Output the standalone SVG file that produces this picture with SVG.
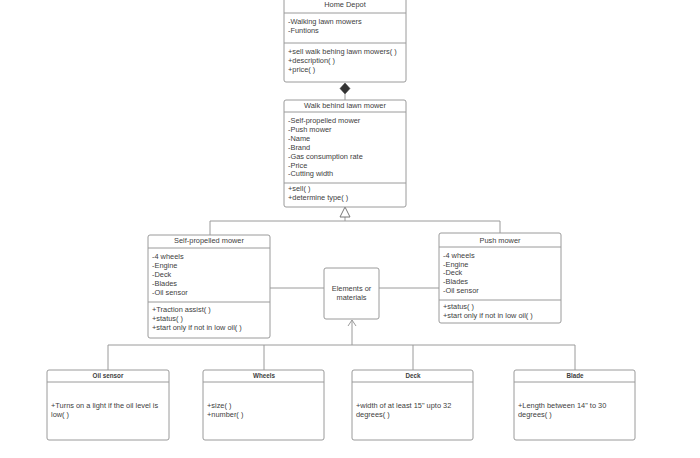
<svg xmlns="http://www.w3.org/2000/svg" width="700" height="458" viewBox="0 0 700 458">
<style>
.box{fill:#fff;stroke:#9a9a9a;stroke-width:1}
.div{stroke:#9a9a9a;stroke-width:1}
.t{font-family:"Liberation Sans",Arial,sans-serif;font-size:7.4px;fill:#404040}
.c{text-anchor:middle}
.b{font-weight:bold;font-size:6.3px}
.ln{fill:none;stroke:#9a9a9a;stroke-width:1}
</style>
<rect width="700" height="458" fill="#fff"/>
<g id="connectors">
<path class="ln" d="M345,94 V100"/>
<path d="M345,83 L350,88.5 L345,94 L340,88.5 Z" fill="#333" stroke="#333" stroke-width="0.5"/>
<path class="ln" d="M345,217 V221 M210,236 V221 H500 V233"/>
<path d="M345,207 L350,217 L340,217 Z" fill="#fff" stroke="#777" stroke-width="1"/>
<path class="ln" d="M270,288 H324 M379,288 H439"/>
<path class="ln" d="M108,370 V345 H575 V370 M264,345 V370 M413,345 V370 M352,345 V320"/>
<path class="ln" d="M348,326 L352,320 L356,326" stroke="#666"/>
</g>
<g id="home-depot">
<rect class="box" x="284" y="-4" width="122" height="86" rx="2"/>
<line class="div" x1="284" y1="13" x2="406" y2="13"/>
<line class="div" x1="284" y1="43" x2="406" y2="43"/>
<text class="t c" x="345" y="7">Home Depot</text>
<text class="t" x="288" y="24">-Walking lawn mowers</text>
<text class="t" x="288" y="33">-Funtions</text>
<text class="t" x="288" y="54">+sell walk behing lawn mowers( )</text>
<text class="t" x="288" y="63">+description( )</text>
<text class="t" x="288" y="72">+price( )</text>
</g>
<g id="walk-behind">
<rect class="box" x="284" y="100" width="122" height="107" rx="2"/>
<line class="div" x1="284" y1="112" x2="406" y2="112"/>
<line class="div" x1="284" y1="183" x2="406" y2="183"/>
<text class="t c" x="345" y="108">Walk behind lawn mower</text>
<text class="t" x="288" y="123">-Self-propelled mower</text>
<text class="t" x="288" y="132">-Push mower</text>
<text class="t" x="288" y="141">-Name</text>
<text class="t" x="288" y="150">-Brand</text>
<text class="t" x="288" y="159">-Gas consumption rate</text>
<text class="t" x="288" y="168">-Price</text>
<text class="t" x="288" y="176">-Cutting width</text>
<text class="t" x="288" y="191">+sell( )</text>
<text class="t" x="288" y="200">+determine type( )</text>
</g>
<g id="self-propelled">
<rect class="box" x="148" y="235" width="122" height="103" rx="2"/>
<line class="div" x1="148" y1="248" x2="270" y2="248"/>
<line class="div" x1="148" y1="302" x2="270" y2="302"/>
<text class="t c" x="209" y="243">Self-propelled mower</text>
<text class="t" x="152" y="259">-4 wheels</text>
<text class="t" x="152" y="268">-Engine</text>
<text class="t" x="152" y="277">-Deck</text>
<text class="t" x="152" y="286">-Blades</text>
<text class="t" x="152" y="295">-Oil sensor</text>
<text class="t" x="152" y="312">+Traction assist( )</text>
<text class="t" x="152" y="321">+status( )</text>
<text class="t" x="152" y="330">+start only if not in low oil( )</text>
</g>
<g id="push-mower">
<rect class="box" x="439" y="233" width="122" height="90" rx="2"/>
<line class="div" x1="439" y1="247" x2="561" y2="247"/>
<line class="div" x1="439" y1="300" x2="561" y2="300"/>
<text class="t c" x="500" y="243">Push mower</text>
<text class="t" x="443" y="258">-4 wheels</text>
<text class="t" x="443" y="267">-Engine</text>
<text class="t" x="443" y="275">-Deck</text>
<text class="t" x="443" y="284">-Blades</text>
<text class="t" x="443" y="293">-Oil sensor</text>
<text class="t" x="443" y="309">+status( )</text>
<text class="t" x="443" y="318">+start only if not in low oil( )</text>
</g>
<g id="elements">
<rect class="box" x="324" y="268" width="55" height="51" rx="2"/>
<text class="t c" x="351.5" y="291">Elements or</text>
<text class="t c" x="351.5" y="300">materials</text>
</g>
<g id="oil-sensor">
<rect class="box" x="47" y="370" width="122" height="70" rx="2"/>
<line class="div" x1="47" y1="382" x2="169" y2="382"/>
<text class="t c b" x="108" y="378">Oil sensor</text>
<text class="t" x="51" y="408">+Turns on a light if the oil level is</text>
<text class="t" x="51" y="417">low( )</text>
</g>
<g id="wheels">
<rect class="box" x="203" y="370" width="121" height="70" rx="2"/>
<line class="div" x1="203" y1="382" x2="324" y2="382"/>
<text class="t c b" x="264" y="378">Wheels</text>
<text class="t" x="207" y="408">+size( )</text>
<text class="t" x="207" y="417">+number( )</text>
</g>
<g id="deck">
<rect class="box" x="352" y="370" width="121" height="70" rx="2"/>
<line class="div" x1="352" y1="382" x2="473" y2="382"/>
<text class="t c b" x="413" y="378">Deck</text>
<text class="t" x="356" y="408">+width of at least 15" upto 32</text>
<text class="t" x="356" y="417">degrees( )</text>
</g>
<g id="blade">
<rect class="box" x="514" y="370" width="121" height="70" rx="2"/>
<line class="div" x1="514" y1="382" x2="635" y2="382"/>
<text class="t c b" x="575" y="378">Blade</text>
<text class="t" x="518" y="408">+Length between 14" to 30</text>
<text class="t" x="518" y="417">degrees( )</text>
</g>
</svg>
